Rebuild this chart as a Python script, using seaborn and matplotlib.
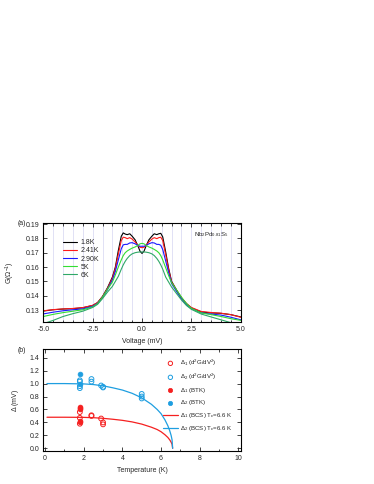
import matplotlib
matplotlib.use("Agg")
import matplotlib.pyplot as plt
from matplotlib.ticker import MultipleLocator
import numpy as np
import pandas as pd
import seaborn as sns

# --- data ---
# (a) conductance spectra
volt = [-5, -4.5, -4, -3.5, -3, -2.5, -2.25, -2, -1.75, -1.5, -1.35, -1.2, -1.05,
        -0.95, -0.85, -0.75, -0.62, -0.5, -0.35, -0.2, -0.1, 0,
        0.1, 0.2, 0.35, 0.5, 0.62, 0.75, 0.85, 0.95, 1.05, 1.2, 1.35, 1.5, 1.75,
        2, 2.25, 2.5, 3, 3.5, 4, 4.5, 5]
g_18 = [0.1293, 0.1302, 0.1307, 0.1310, 0.1316, 0.1332, 0.1352, 0.1395, 0.1455, 0.1530,
        0.1600, 0.1715, 0.1815, 0.1838, 0.1830, 0.1826, 0.1832, 0.1815, 0.1790, 0.1745,
        0.1710, 0.1695,
        0.1710, 0.1745, 0.1790, 0.1815, 0.1832, 0.1826, 0.1832, 0.1835, 0.1810, 0.1705,
        0.1590, 0.1500, 0.1440, 0.1385, 0.1345, 0.1315, 0.1287, 0.1280, 0.1277, 0.1268,
        0.1252]
g_241 = [0.1295, 0.1303, 0.1308, 0.1311, 0.1317, 0.1333, 0.1352, 0.1393, 0.1450, 0.1522,
         0.1590, 0.1690, 0.1785, 0.1808, 0.1805, 0.1798, 0.1805, 0.1795, 0.1775, 0.1750,
         0.1738, 0.1735,
         0.1738, 0.1750, 0.1775, 0.1795, 0.1805, 0.1798, 0.1805, 0.1808, 0.1785, 0.1685,
         0.1580, 0.1495, 0.1438, 0.1385, 0.1345, 0.1318, 0.1290, 0.1283, 0.1278, 0.1268,
         0.1250]
g_290 = [0.1273, 0.1285, 0.1295, 0.1302, 0.1308, 0.1326, 0.1346, 0.1388, 0.1442, 0.1510,
         0.1570, 0.1650, 0.1728, 0.1755, 0.1758, 0.1758, 0.1768, 0.1770, 0.1762, 0.1750,
         0.1745, 0.1745,
         0.1745, 0.1750, 0.1762, 0.1770, 0.1768, 0.1758, 0.1758, 0.1752, 0.1722, 0.1642,
         0.1560, 0.1485, 0.1430, 0.1378, 0.1338, 0.1310, 0.1280, 0.1272, 0.1265, 0.1250,
         0.1232]
g_5 = [0.1255, 0.1270, 0.1282, 0.1292, 0.1302, 0.1322, 0.1345, 0.1390, 0.1445, 0.1495,
       0.1545, 0.1600, 0.1650, 0.1680, 0.1700, 0.1712, 0.1723, 0.1732, 0.1740, 0.1752,
       0.1762, 0.1765,
       0.1762, 0.1752, 0.1740, 0.1732, 0.1723, 0.1712, 0.1700, 0.1680, 0.1650, 0.1595,
       0.1540, 0.1490, 0.1440, 0.1390, 0.1345, 0.1312, 0.1280, 0.1268, 0.1255, 0.1240,
       0.1228]
g_6 = [0.1205, 0.1228, 0.1255, 0.1275, 0.1292, 0.1318, 0.1340, 0.1380, 0.1425, 0.1465,
       0.1500, 0.1535, 0.1585, 0.1615, 0.1640, 0.1660, 0.1680, 0.1692, 0.1700, 0.1704,
       0.1705, 0.1705,
       0.1705, 0.1704, 0.1700, 0.1692, 0.1680, 0.1660, 0.1640, 0.1615, 0.1585, 0.1530,
       0.1495, 0.1460, 0.1415, 0.1370, 0.1332, 0.1305, 0.1272, 0.1252, 0.1232, 0.1212,
       0.1195]
spec_labels = ["1.8K", "2.41K", "2.90K", "5K", "6K"]
spec_colors = ["black", "#ff1a1a", "#1a1aff", "#33dd33", "#2fa868"]

# (b) gap vs temperature
t_d1_open = [1.8, 1.8, 1.8, 2.4, 2.4, 2.9, 3.0, 3.0]
d1_open = [0.56, 0.47, 0.38, 0.51, 0.50, 0.46, 0.40, 0.37]
t_d2_open = [1.8, 1.8, 1.8, 1.8, 2.4, 2.4, 2.9, 3.0, 3.0, 5.0, 5.0, 5.0]
d2_open = [1.05, 1.03, 0.96, 0.93, 1.07, 1.03, 0.97, 0.95, 0.94, 0.84, 0.80, 0.77]
t_d1_btk = [1.8, 1.8, 1.8, 1.8, 1.8]
d1_btk = [0.64, 0.62, 0.60, 0.42, 0.40]
t_d2_btk = [1.8, 1.8]
d2_btk = [1.15, 1.00]
t_bcs = [0.1, 1.0, 2.0, 2.5, 3.0, 3.5, 4.0, 4.5, 5.0, 5.5, 5.8, 6.0, 6.2, 6.35,
         6.45, 6.52, 6.57, 6.6]
d1_bcs = [0.48, 0.48, 0.478, 0.473, 0.463, 0.449, 0.432, 0.408, 0.374, 0.326, 0.290,
          0.256, 0.210, 0.168, 0.130, 0.095, 0.062, 0.0]
d2_bcs = [1.0, 1.0, 0.995, 0.985, 0.965, 0.935, 0.90, 0.85, 0.78, 0.68, 0.60, 0.535,
          0.44, 0.35, 0.27, 0.20, 0.13, 0.0]

RED = "#f52020"
BLUE = "#1e9ee0"

sns.set_theme(style="ticks")
plt.rcParams["font.family"] = ["Liberation Sans", "DejaVu Sans"]
plt.rcParams["mathtext.default"] = "regular"
FS = 5
LFS = 4.4

fig = plt.figure(figsize=(3.74, 4.84), dpi=100)
ax1 = fig.add_axes([0.1158, 0.3357, 0.5278, 0.2041])
ax2 = fig.add_axes([0.1158, 0.0688, 0.5278, 0.2101])

# --- panel (a) ---
for gx in np.arange(-4.5, 5.0, 0.5):
    ax1.axvline(gx, color="#dcdcf4", lw=0.6, zorder=0)
spec = [g_18, g_241, g_290, g_5, g_6]
for g, lab, col in zip(spec, spec_labels, spec_colors):
    sns.lineplot(x=volt, y=g, ax=ax1, color=col, lw=0.8, label=lab, sort=False)
ax1.set_xlim(-5, 5)
ax1.set_ylim(0.1220, 0.1909)
ax1.xaxis.set_minor_locator(MultipleLocator(0.5))
ax1.set_xticks([-5, -2.5, 0, 2.5, 5])
ax1.set_xticklabels(["-5.0", "-2.5", "0.0", "2.5", "5.0"])
ax1.set_yticks([0.13, 0.14, 0.15, 0.16, 0.17, 0.18, 0.19])
ax1.set_yticklabels(["0.13", "0.14", "0.15", "0.16", "0.17", "0.18", "0.19"])
ax1.set_xlabel("Voltage (mV)", fontsize=FS, labelpad=4)
ax1.set_ylabel(r"G($\Omega^{-1}$)", fontsize=FS, labelpad=6)
ax1.text(0.765, 0.86, r"Nb$_2$Pd$_{0.81}$S$_5$", transform=ax1.transAxes, fontsize=LFS)
ax1.legend(loc="upper left", bbox_to_anchor=(0.075, 0.88), frameon=False,
           fontsize=FS, handlelength=2.0, handletextpad=0.5, labelspacing=0.15,
           borderpad=0.2)
fig.text(18 / 374, 1 - 225 / 484, "(a)", fontsize=FS)

# --- panel (b) ---
sns.lineplot(x=t_bcs, y=d1_bcs, ax=ax2, color=RED, lw=0.9, sort=False,
             label=r"$\Delta_1$ (BCS) T$_c$=6.6 K")
sns.lineplot(x=t_bcs, y=d2_bcs, ax=ax2, color=BLUE, lw=0.9, sort=False,
             label=r"$\Delta_2$ (BCS) T$_c$=6.6 K")
sns.scatterplot(x=t_d1_open, y=d1_open, ax=ax2, marker="o", s=12, facecolors="none",
                edgecolors=RED, linewidths=0.7, label=r"$\Delta_1$ (d$^2$G/dV$^2$)")
sns.scatterplot(x=t_d2_open, y=d2_open, ax=ax2, marker="o", s=12, facecolors="none",
                edgecolors=BLUE, linewidths=0.7, label=r"$\Delta_2$ (d$^2$G/dV$^2$)")
sns.scatterplot(x=t_d1_btk, y=d1_btk, ax=ax2, marker="o", s=12, color=RED,
                edgecolor=RED, linewidth=0.5, label=r"$\Delta_1$ (BTK)")
sns.scatterplot(x=t_d2_btk, y=d2_btk, ax=ax2, marker="o", s=12, color=BLUE,
                edgecolor=BLUE, linewidth=0.5, label=r"$\Delta_2$ (BTK)")
ax2.set_xlim(-0.09, 10.12)
ax2.set_ylim(-0.037, 1.534)
ax2.xaxis.set_major_locator(MultipleLocator(2))
ax2.xaxis.set_minor_locator(MultipleLocator(1))
ax2.set_yticks([0.0, 0.2, 0.4, 0.6, 0.8, 1.0, 1.2, 1.4])
ax2.set_yticklabels(["0.0", "0.2", "0.4", "0.6", "0.8", "1.0", "1.2", "1.4"])
ax2.set_xlabel("Temperature (K)", fontsize=FS, labelpad=4)
ax2.set_ylabel(r"$\Delta$ (mV)", fontsize=FS, labelpad=6)
h, l = ax2.get_legend_handles_labels()
order = [2, 3, 4, 5, 0, 1]
ax2.legend([h[i] for i in order], [l[i] for i in order], loc="upper left",
           bbox_to_anchor=(0.585, 0.955), frameon=False, fontsize=LFS,
           handlelength=2.4, handletextpad=0.4, labelspacing=0.6, borderpad=0.2,
           markerscale=0.9)
fig.text(18 / 374, 1 - 352 / 484, "(b)", fontsize=FS)

for ax in (ax1, ax2):
    ax.tick_params(which="both", direction="in", top=True, right=True,
                   labelsize=FS, width=0.6, pad=3)
    ax.tick_params(which="major", length=3)
    ax.tick_params(which="minor", length=1.8)
    for sp in ax.spines.values():
        sp.set_linewidth(0.8)
        sp.set_color("black")

fig.savefig("out.png", dpi=100, facecolor="white")
